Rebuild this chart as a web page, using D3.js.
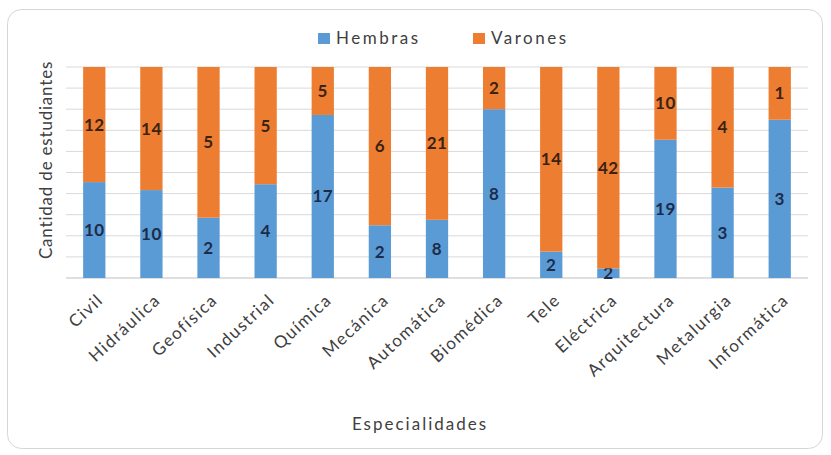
<!DOCTYPE html>
<html>
<head>
<meta charset="utf-8">
<script src="https://cdn.jsdelivr.net/npm/d3@7"></script>
<style>
  body { margin: 0; background: #fff; }
  text { font-family: Lato, "Open Sans", sans-serif; }
</style>
</head>
<body>
<div id="chart"></div>
<script>
const categories = ['Civil', 'Hidráulica', 'Geofísica', 'Industrial', 'Química', 'Mecánica',
  'Automática', 'Biomédica', 'Tele', 'Eléctrica', 'Arquitectura', 'Metalurgia', 'Informática'];
const hembras = [10, 10, 2, 4, 17, 2, 8, 8, 2, 2, 19, 3, 3];
const varones = [12, 14, 5, 5, 5, 6, 21, 2, 14, 42, 10, 4, 1];
const seriesNames = ['Hembras', 'Varones'];
const yTicks = [0, 0.1, 0.2, 0.3, 0.4, 0.5, 0.6, 0.7, 0.8, 0.9, 1];

const width = 831;
const height = 455;
const colors = { Hembras: '#5B9BD5', Varones: '#ED7D31' };

const svg = d3.select('#chart')
  .append('svg')
  .attr('width', width)
  .attr('height', height);

// chart frame
svg.append('rect')
  .attr('x', 7.5).attr('y', 9.5)
  .attr('width', 815).attr('height', 439)
  .attr('rx', 14)
  .attr('fill', '#fff')
  .attr('stroke', '#d6d6d6');

const margin = { top: 67, right: 23, bottom: 177, left: 66 };
const innerW = width - margin.left - margin.right;
const innerH = height - margin.top - margin.bottom;

const g = svg.append('g')
  .attr('transform', `translate(${margin.left},${margin.top})`);

const table = categories.map((c, i) => ({ cat: c, Hembras: hembras[i], Varones: varones[i] }));
const stacked = d3.stack()
  .keys(seriesNames)
  .offset(d3.stackOffsetExpand)(table);

const x = d3.scaleBand()
  .domain(categories)
  .range([0, innerW])
  .paddingInner(0.61)
  .paddingOuter(0.3);

const y = d3.scaleLinear()
  .domain([0, 1])
  .range([innerH, 0]);

// gridlines
g.append('g')
  .selectAll('line')
  .data(yTicks)
  .join('line')
  .attr('x1', 0).attr('x2', innerW)
  .attr('y1', d => y(d)).attr('y2', d => y(d))
  .attr('stroke', d => d === 0 ? '#bfbfbf' : '#d9d9d9')
  .attr('stroke-width', 1);

// bars
const layer = g.selectAll('g.layer')
  .data(stacked)
  .join('g')
  .attr('class', 'layer')
  .attr('fill', d => colors[d.key]);

layer.selectAll('rect')
  .data(d => d)
  .join('rect')
  .attr('x', d => x(d.data.cat))
  .attr('y', d => y(d[1]))
  .attr('width', x.bandwidth())
  .attr('height', d => y(d[0]) - y(d[1]));

// data labels
layer.selectAll('text')
  .data(d => d.map(v => ({ v, key: d.key })))
  .join('text')
  .attr('x', d => x(d.v.data.cat) + x.bandwidth() / 2)
  .attr('y', d => {
    const mid = (y(d.v[0]) + y(d.v[1])) / 2;
    return Math.min(mid, innerH + 3) + 6;
  })
  .attr('text-anchor', 'middle')
  .attr('font-size', 17)
  .attr('font-weight', 'bold')
  .attr('letter-spacing', 0.5)
  .attr('fill', d => d.key === 'Hembras' ? '#1c2c4a' : '#3a2214')
  .text(d => d.v.data[d.key]);

// x axis labels
const xAxis = g.append('g')
  .attr('transform', `translate(0,${innerH})`)
  .call(d3.axisBottom(x).tickSize(0).tickPadding(0));
xAxis.select('.domain').remove();
xAxis.selectAll('text')
  .attr('font-family', 'Lato, "Open Sans", sans-serif')
  .attr('font-size', 17)
  .attr('letter-spacing', 1.5)
  .attr('fill', '#404040')
  .attr('text-anchor', 'end')
  .attr('dy', '0.35em')
  .attr('transform', 'translate(6,19) rotate(-43)');

// axis titles
svg.append('text')
  .attr('transform', `translate(52,160) rotate(-90)`)
  .attr('text-anchor', 'middle')
  .attr('font-size', 17)
  .attr('letter-spacing', 0.8)
  .attr('fill', '#404040')
  .text('Cantidad de estudiantes');

svg.append('text')
  .attr('x', 420)
  .attr('y', 430)
  .attr('text-anchor', 'middle')
  .attr('font-size', 17)
  .attr('letter-spacing', 2)
  .attr('fill', '#404040')
  .text('Especialidades');

// legend
const legend = svg.append('g')
  .attr('transform', 'translate(318,31)');
const legendX = [0, 155];
const item = legend.selectAll('g')
  .data(seriesNames)
  .join('g')
  .attr('transform', (d, i) => `translate(${legendX[i]},0)`);
item.append('rect')
  .attr('width', 12).attr('height', 11)
  .attr('y', 2)
  .attr('fill', d => colors[d]);
item.append('text')
  .attr('x', 18)
  .attr('y', 13)
  .attr('font-size', 17)
  .attr('letter-spacing', 2.5)
  .attr('fill', '#404040')
  .text(d => d);
</script>
</body>
</html>
